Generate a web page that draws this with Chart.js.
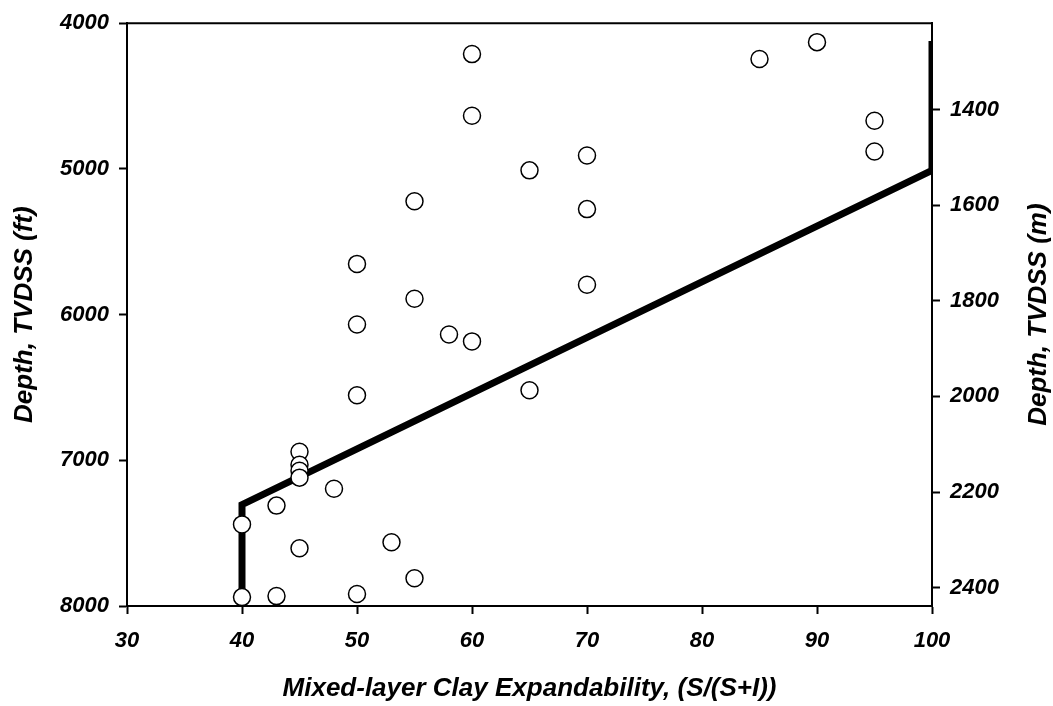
<!DOCTYPE html>
<html>
<head>
<meta charset="utf-8">
<script src="https://cdn.jsdelivr.net/npm/chart.js@4"></script>
<style>
  html, body { margin: 0; padding: 0; background: #fff; }
  #wrap { width: 1053px; height: 706px; position: relative; }
</style>
</head>
<body>
<div id="wrap"><canvas id="clayChart"></canvas></div>
<script>
// measured samples: expandability (%) vs depth (ft)
const expandability = [60, 90, 85, 60, 95, 95, 70, 65, 55, 70, 50, 70, 55, 50, 58, 60, 65, 50,
                       45, 45, 45, 45, 48, 43, 40, 53, 45, 55, 40, 43, 50];
const depthFt = [4212, 4130, 4246, 4635, 4669, 4881, 4908, 5010, 5222, 5276, 5652, 5795, 5891, 6068, 6137, 6184, 6519, 6553,
                 6942, 7031, 7072, 7119, 7195, 7311, 7440, 7563, 7604, 7809, 7939, 7932, 7918];

// trend line
const trendX = [100, 100, 40, 40];
const trendDepth = [4123, 5010, 7304, 7925];

const xTicks = [30, 40, 50, 60, 70, 80, 90, 100];
const ftTicks = [4000, 5000, 6000, 7000, 8000];
const mTicks = [1400, 1600, 1800, 2000, 2200, 2400];
const FT_TO_M = 0.3048;

const tickFont = { family: "'Liberation Sans', Arial, sans-serif", size: 22, weight: "bold", style: "italic" };
const titleFont = { family: "'Liberation Sans', Arial, sans-serif", size: 26, weight: "bold", style: "italic" };

const framePlugin = {
    id: "frame",
    afterDraw(chart) {
        const { ctx, chartArea } = chart;
        ctx.save();
        ctx.strokeStyle = "#000";
        ctx.lineWidth = 2;
        ctx.beginPath();
        ctx.moveTo(chartArea.left - 1, chartArea.top);
        ctx.lineTo(chartArea.right + 1, chartArea.top);
        ctx.stroke();
        // right axis title reads bottom-to-top
        ctx.translate(1039, (chartArea.top + chartArea.bottom) / 2);
        ctx.rotate(-Math.PI / 2);
        ctx.font = "italic bold 26px 'Liberation Sans', Arial, sans-serif";
        ctx.fillStyle = "#000";
        ctx.textAlign = "center";
        ctx.textBaseline = "middle";
        ctx.fillText("Depth, TVDSS (m)", 0, 0);
        ctx.restore();
    }
};

const axisGrid = { drawOnChartArea: false, drawTicks: true, tickLength: 8, tickColor: "#000", tickWidth: 2 };
const axisBorder = { display: true, color: "#000", width: 2 };
const plain = v => String(v);

new Chart(document.getElementById("clayChart"), {
    type: "scatter",
    data: {
        datasets: [
            {
                label: "Samples",
                data: expandability.map((x, i) => ({ x: x, y: depthFt[i] })),
                pointStyle: "circle",
                pointRadius: 8.5,
                pointBorderWidth: 1.5,
                pointBorderColor: "#000",
                pointBackgroundColor: "#fff"
            },
            {
                label: "Trend",
                type: "line",
                data: trendX.map((x, i) => ({ x: x, y: trendDepth[i] })),
                borderColor: "#000",
                borderWidth: 7,
                pointRadius: 0,
                borderJoinStyle: "miter",
                fill: false
            }
        ]
    },
    options: {
        responsive: true,
        maintainAspectRatio: false,
        animation: false,
        layout: { padding: { top: 19, left: 0, right: 0, bottom: 0 } },
        plugins: { legend: { display: false }, tooltip: { enabled: false } },
        scales: {
            x: {
                type: "linear",
                min: 30, max: 100,
                afterBuildTicks: s => { s.ticks = xTicks.map(v => ({ value: v })); },
                afterFit: s => { s.height = 100; },
                grid: axisGrid,
                border: axisBorder,
                ticks: { color: "#000", font: tickFont, padding: 14, maxRotation: 0, callback: plain },
                title: {
                    display: true,
                    text: "Mixed-layer Clay Expandability, (S/(S+I))",
                    color: "#000",
                    font: titleFont,
                    padding: { top: 0, bottom: 2 }
                }
            },
            y: {
                type: "linear",
                position: "left",
                reverse: true,
                min: 4000, max: 8000,
                afterBuildTicks: s => { s.ticks = ftTicks.map(v => ({ value: v })); },
                afterFit: s => { s.width = 127; },
                grid: axisGrid,
                border: axisBorder,
                ticks: { color: "#000", font: tickFont, padding: 10, callback: plain },
                title: {
                    display: true,
                    text: "Depth, TVDSS (ft)",
                    color: "#000",
                    font: titleFont,
                    padding: { top: 9, bottom: 0 }
                }
            },
            yM: {
                type: "linear",
                position: "right",
                reverse: true,
                min: 4000 * FT_TO_M, max: 8000 * FT_TO_M,
                afterBuildTicks: s => { s.ticks = mTicks.map(v => ({ value: v })); },
                afterFit: s => { s.width = 121; },
                grid: axisGrid,
                border: axisBorder,
                ticks: { color: "#000", font: tickFont, padding: 10, callback: plain }
            }
        }
    },
    plugins: [framePlugin]
});
</script>
</body>
</html>
